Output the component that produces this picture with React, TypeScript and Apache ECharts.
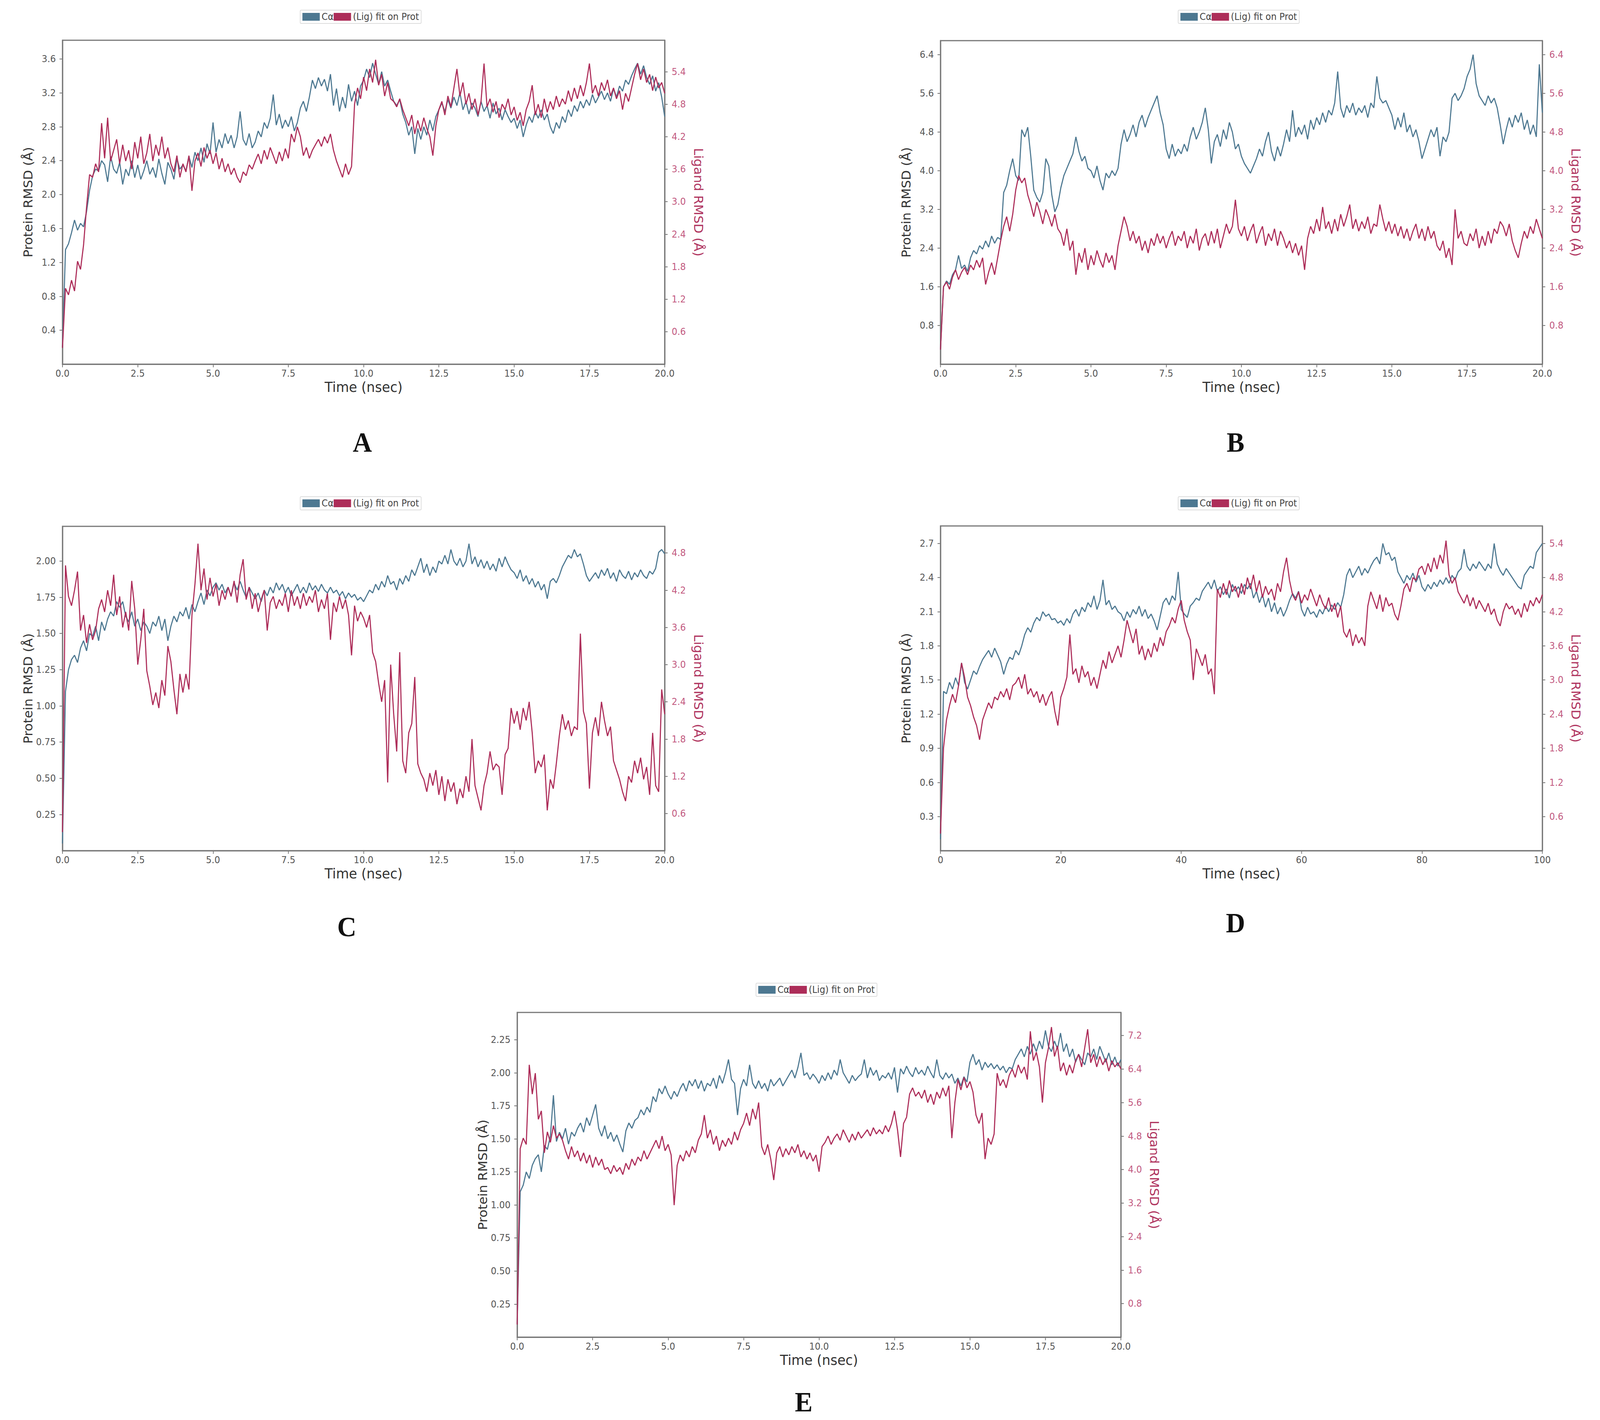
import React, { useEffect, useRef } from "react";
import * as echarts from "echarts";

// ---- sampling steps (ns between stored frames) ----
const STEP_20NS = 0.1;
const STEP_100NS = 0.5;

// ---- Panel A ----
const BLUE_A = [
  0.20,1.35,1.42,1.55,1.70,1.58,1.66,1.62,1.80,2.05,
  2.22,2.30,2.28,2.40,2.35,2.15,2.45,2.30,2.25,2.38,
  2.12,2.30,2.22,2.40,2.20,2.35,2.18,2.28,2.40,2.24,
  2.32,2.20,2.42,2.25,2.12,2.38,2.30,2.18,2.42,2.30,
  2.35,2.28,2.45,2.32,2.50,2.40,2.55,2.38,2.60,2.48,
  2.85,2.50,2.65,2.55,2.72,2.60,2.70,2.55,2.68,2.98,
  2.65,2.58,2.72,2.55,2.62,2.75,2.68,2.85,2.78,2.90,
  3.18,2.82,2.95,2.78,2.88,2.80,2.92,2.75,2.85,3.02,
  3.10,2.98,3.15,3.35,3.25,3.38,3.28,3.36,3.22,3.42,
  3.05,3.25,2.98,3.15,3.02,3.30,3.10,3.22,3.05,3.28,
  3.35,3.48,3.38,3.55,3.42,3.30,3.45,3.28,3.35,3.22,
  3.10,3.05,3.12,2.95,2.85,2.70,2.80,2.48,2.78,2.65,
  2.80,2.70,2.88,2.75,2.92,3.00,3.08,2.98,3.12,3.02,
  3.15,3.05,3.20,3.00,3.10,2.95,3.08,3.02,2.92,3.10,
  2.98,3.05,2.90,3.08,2.95,3.02,2.88,3.00,2.92,2.85,
  2.90,2.78,2.88,2.68,2.82,2.92,2.85,2.98,2.90,3.00,
  2.88,2.95,2.80,2.72,2.85,2.78,2.92,2.85,3.00,2.92,
  3.05,2.98,3.10,3.02,3.12,3.05,3.18,3.08,3.15,3.22,
  3.12,3.20,3.10,3.25,3.15,3.28,3.22,3.35,3.30,3.40,
  3.48,3.55,3.42,3.52,3.38,3.30,3.40,3.22,3.32,3.15,
  2.92,
];
const RED_A = [
  0.30,1.40,1.28,1.55,1.35,1.90,1.75,2.20,2.90,3.50,
  3.45,3.70,3.55,4.45,3.80,4.55,3.75,3.95,4.15,3.70,
  4.05,3.75,3.95,3.60,4.10,3.80,4.20,3.70,3.90,4.25,
  3.75,4.05,3.85,4.20,3.80,4.00,3.70,3.55,3.85,3.45,
  3.70,3.55,3.85,3.20,3.75,3.90,3.65,4.00,3.80,3.95,
  3.70,3.90,3.60,3.80,3.55,3.70,3.50,3.62,3.45,3.35,
  3.55,3.48,3.68,3.60,3.75,3.88,3.70,3.95,3.78,4.00,
  3.85,3.70,3.92,3.75,3.98,3.80,4.25,4.10,4.38,4.20,
  3.85,4.00,3.80,3.95,4.05,4.15,4.02,4.20,4.08,4.25,
  3.95,3.75,3.60,3.45,3.70,3.50,3.65,4.80,5.10,4.90,
  5.30,5.05,5.45,5.20,5.62,5.15,5.35,4.95,5.20,4.90,
  4.85,4.75,4.90,4.70,4.55,4.40,4.60,4.25,4.50,4.30,
  4.55,4.35,4.20,3.85,4.40,4.70,4.85,4.60,4.95,4.75,
  5.10,5.45,4.95,5.20,4.80,5.00,4.70,4.90,4.60,4.85,
  5.55,4.75,4.90,4.65,4.85,4.55,4.80,4.70,4.90,4.60,
  4.75,4.50,4.65,4.40,4.70,4.85,5.15,4.60,4.80,4.55,
  4.90,4.65,4.85,4.70,4.95,4.75,4.90,4.80,5.05,4.85,
  5.10,4.90,5.15,4.95,5.20,5.55,5.00,5.15,4.95,5.20,
  5.05,5.25,4.95,5.10,4.90,5.05,4.70,5.00,4.85,5.10,
  5.35,5.55,5.25,5.45,5.20,5.35,5.05,5.30,5.10,5.20,
  5.00,
];

// ---- Panel B ----
const BLUE_B = [
  0.30,1.60,1.72,1.65,1.85,1.95,2.25,1.98,2.05,1.92,
  2.20,2.35,2.28,2.45,2.38,2.55,2.42,2.65,2.50,2.62,
  2.58,3.55,3.70,4.00,4.25,3.90,3.80,4.85,4.70,4.90,
  4.30,3.60,3.45,3.35,3.55,4.25,4.10,3.50,3.15,3.30,
  3.65,3.90,4.05,4.20,4.35,4.70,4.40,4.20,4.30,4.05,
  4.00,3.85,4.10,3.80,3.60,3.95,3.85,4.00,3.90,4.05,
  4.55,4.85,4.60,4.75,4.95,4.70,5.00,5.15,4.90,5.10,
  5.25,5.40,5.55,5.20,4.95,4.45,4.25,4.55,4.30,4.45,
  4.35,4.55,4.40,4.70,4.90,4.65,4.80,5.00,5.30,4.85,
  4.15,4.60,4.75,4.50,4.85,4.65,5.00,4.80,4.45,4.55,
  4.30,4.15,4.05,3.95,4.10,4.25,4.45,4.30,4.60,4.80,
  4.40,4.20,4.50,4.30,4.55,4.85,4.60,5.25,4.70,4.90,
  4.75,4.95,4.65,5.05,4.85,5.10,4.95,5.20,5.00,5.25,
  5.15,5.40,6.05,5.30,5.10,5.35,5.20,5.40,5.15,5.30,
  5.20,5.35,5.10,5.40,5.30,5.95,5.50,5.40,5.45,5.30,
  5.15,4.85,5.10,4.90,5.20,4.80,4.95,4.70,4.85,4.60,
  4.25,4.45,4.65,4.85,4.70,4.90,4.30,4.70,4.60,4.80,
  5.50,5.60,5.45,5.55,5.70,5.95,6.10,6.40,5.80,5.55,
  5.45,5.35,5.55,5.40,5.50,5.30,4.95,4.55,4.85,5.10,
  4.90,5.15,5.00,5.20,4.85,5.05,4.75,4.95,4.70,6.20,
  5.20,
];
const RED_B = [
  0.30,1.60,1.70,1.55,1.80,1.95,1.75,1.90,2.00,1.85,
  2.05,1.95,2.15,2.00,2.20,1.65,1.90,2.10,1.85,2.20,
  2.55,2.85,3.05,2.75,3.10,3.60,3.90,3.75,3.85,3.50,
  3.30,3.05,3.35,3.15,2.90,3.20,3.05,2.85,3.10,2.80,
  2.70,2.45,2.80,2.35,2.55,1.85,2.30,2.10,2.40,1.95,
  2.25,2.05,2.35,2.15,2.00,2.30,2.10,2.25,1.95,2.45,
  2.75,3.05,2.85,2.55,2.75,2.50,2.65,2.35,2.55,2.30,
  2.60,2.45,2.70,2.50,2.65,2.40,2.60,2.75,2.45,2.65,
  2.55,2.75,2.40,2.65,2.50,2.80,2.35,2.60,2.70,2.45,
  2.75,2.50,2.80,2.40,2.65,2.90,2.70,2.85,3.40,2.80,
  2.65,2.85,2.55,2.75,2.90,2.50,2.70,2.85,2.45,2.70,
  2.55,2.80,2.45,2.75,2.60,2.40,2.55,2.30,2.50,2.25,
  2.45,1.95,2.60,2.85,2.70,3.00,2.75,3.25,2.80,2.95,
  2.70,3.00,2.75,3.10,2.85,3.05,3.30,2.80,3.00,2.75,
  2.95,2.80,3.05,2.70,2.90,2.85,3.30,3.00,2.75,2.95,
  2.70,2.90,2.65,2.85,2.60,2.80,2.55,2.75,2.90,2.60,
  2.80,2.55,2.85,2.60,2.75,2.45,2.35,2.55,2.20,2.40,
  2.05,3.20,2.60,2.75,2.50,2.45,2.70,2.55,2.80,2.40,
  2.65,2.45,2.75,2.50,2.80,2.70,2.95,2.85,2.65,2.90,
  2.55,2.35,2.20,2.50,2.75,2.60,2.85,2.70,3.00,2.80,
  2.60,
];

// ---- Panel C ----
const BLUE_C = [
  0.05,1.10,1.25,1.32,1.35,1.30,1.40,1.45,1.38,1.50,
  1.48,1.55,1.45,1.58,1.52,1.60,1.65,1.62,1.72,1.68,
  1.72,1.62,1.58,1.65,1.55,1.60,1.52,1.58,1.55,1.50,
  1.58,1.55,1.62,1.52,1.60,1.45,1.55,1.62,1.58,1.65,
  1.62,1.68,1.60,1.70,1.65,1.72,1.78,1.70,1.80,1.76,
  1.82,1.85,1.80,1.84,1.78,1.82,1.76,1.85,1.80,1.86,
  1.80,1.75,1.82,1.78,1.74,1.78,1.72,1.80,1.76,1.82,
  1.78,1.85,1.80,1.84,1.78,1.82,1.76,1.80,1.84,1.78,
  1.82,1.78,1.85,1.80,1.83,1.79,1.84,1.80,1.78,1.82,
  1.78,1.80,1.76,1.79,1.74,1.78,1.75,1.77,1.73,1.75,
  1.72,1.76,1.80,1.78,1.84,1.80,1.86,1.82,1.90,1.84,
  1.86,1.80,1.88,1.84,1.90,1.86,1.94,1.90,1.96,2.02,
  1.92,1.98,1.90,1.96,1.92,2.00,1.98,2.04,1.98,2.08,
  2.00,1.97,2.02,1.96,2.00,2.12,1.98,2.03,1.96,2.01,
  1.95,2.00,1.94,1.98,1.93,2.02,1.96,2.03,1.98,1.94,
  1.92,1.88,1.94,1.86,1.90,1.84,1.88,1.82,1.86,1.80,
  1.84,1.74,1.86,1.88,1.85,1.90,1.96,2.00,2.04,2.02,
  2.08,2.03,2.05,1.98,1.90,1.86,1.89,1.92,1.88,1.94,
  1.90,1.95,1.88,1.92,1.86,1.94,1.90,1.88,1.93,1.87,
  1.92,1.89,1.94,1.90,1.88,1.93,1.91,1.95,2.06,2.08,
  2.05,
];
const RED_C = [
  0.30,4.60,4.10,3.95,4.20,4.50,3.55,3.80,3.35,3.65,
  3.40,3.55,3.90,4.05,3.85,4.20,3.95,4.45,3.80,4.10,
  3.60,3.85,3.55,4.35,3.90,3.00,3.40,3.90,2.90,2.65,
  2.35,2.55,2.30,2.75,2.50,3.30,3.05,2.60,2.20,2.85,
  2.55,2.85,2.60,3.80,4.30,4.95,4.20,4.55,4.05,4.40,
  4.10,4.30,3.95,4.20,4.05,4.25,4.10,4.35,4.00,4.45,
  4.70,4.05,4.25,3.90,4.15,3.85,4.05,4.20,3.55,4.00,
  4.10,3.90,4.05,3.95,4.15,3.85,4.20,3.95,4.10,3.90,
  4.15,3.95,4.10,4.00,4.20,3.85,4.05,3.90,4.15,3.40,
  4.00,3.85,4.10,3.90,4.05,3.80,3.15,3.95,3.70,3.85,
  3.75,3.60,3.80,3.20,3.05,2.70,2.40,2.75,1.10,3.00,
  2.20,1.60,3.20,1.45,1.25,1.90,2.05,2.80,1.40,1.25,
  1.15,0.95,1.25,1.05,1.30,0.90,1.20,0.80,1.15,0.95,
  1.10,0.75,1.00,0.85,1.20,0.95,1.80,1.05,0.85,0.65,
  1.05,1.25,1.60,1.30,1.40,1.35,0.90,1.55,1.65,2.30,
  2.05,2.25,1.95,2.30,2.10,2.40,1.90,1.25,1.45,1.35,
  1.55,0.65,1.15,1.00,1.40,1.85,2.20,1.95,2.10,1.85,
  2.00,1.95,3.50,2.25,2.05,1.00,1.90,2.15,1.85,2.40,
  2.10,1.85,2.00,1.45,1.30,1.15,0.95,0.80,1.20,1.10,
  1.45,1.25,1.50,1.15,1.35,0.90,1.90,1.05,0.95,2.60,
  2.20,
];

// ---- Panel D (100 ns) ----
const BLUE_D = [
  0.10,1.40,1.38,1.48,1.42,1.52,1.45,1.65,1.48,1.42,
  1.50,1.58,1.55,1.62,1.68,1.72,1.76,1.70,1.78,1.72,
  1.66,1.55,1.64,1.70,1.68,1.76,1.72,1.80,1.90,1.96,
  1.92,2.00,2.05,2.02,2.10,2.06,2.08,2.03,2.04,2.00,
  2.02,1.98,2.04,2.00,2.08,2.12,2.06,2.14,2.10,2.18,
  2.14,2.24,2.12,2.20,2.38,2.16,2.20,2.12,2.15,2.10,
  2.08,2.02,2.10,2.05,2.12,2.08,2.15,2.06,2.12,2.04,
  2.08,2.02,1.94,2.06,2.18,2.22,2.16,2.24,2.20,2.45,
  2.12,2.08,2.05,2.15,2.18,2.22,2.20,2.28,2.32,2.36,
  2.30,2.38,2.28,2.32,2.25,2.30,2.22,2.34,2.28,2.32,
  2.26,2.34,2.30,2.35,2.22,2.28,2.18,2.25,2.14,2.22,
  2.10,2.18,2.08,2.14,2.06,2.12,2.20,2.26,2.22,2.28,
  2.12,2.06,2.14,2.08,2.10,2.05,2.12,2.08,2.15,2.10,
  2.16,2.12,2.18,2.14,2.25,2.42,2.48,2.40,2.45,2.50,
  2.42,2.48,2.44,2.50,2.55,2.58,2.52,2.70,2.60,2.62,
  2.55,2.58,2.45,2.40,2.35,2.42,2.38,2.44,2.36,2.42,
  2.32,2.28,2.34,2.30,2.36,2.32,2.38,2.34,2.40,2.35,
  2.42,2.38,2.45,2.48,2.65,2.50,2.46,2.52,2.48,2.54,
  2.50,2.46,2.52,2.48,2.70,2.52,2.46,2.42,2.48,2.44,
  2.40,2.36,2.32,2.30,2.42,2.46,2.50,2.48,2.62,2.66,
  2.70,
];
const RED_D = [
  0.30,1.80,2.30,2.55,2.75,2.60,2.90,3.30,3.05,2.70,
  2.55,2.35,2.20,1.95,2.30,2.45,2.60,2.50,2.70,2.65,
  2.80,2.70,2.85,2.65,2.90,2.95,3.05,2.85,3.10,2.75,
  2.85,2.70,2.80,2.60,2.75,2.55,2.70,2.80,2.45,2.20,
  2.70,2.85,3.05,3.80,3.10,3.20,2.95,3.25,3.05,3.15,
  2.90,3.05,2.85,3.10,3.35,3.20,3.50,3.30,3.45,3.60,
  3.40,3.70,4.05,3.85,3.65,3.90,3.45,3.60,3.35,3.55,
  3.40,3.65,3.50,3.75,3.60,3.85,3.95,4.10,4.00,4.25,
  4.40,4.05,3.85,3.70,3.00,3.55,3.40,3.25,3.45,3.10,
  3.20,2.75,4.60,4.45,4.70,4.50,4.75,4.55,4.65,4.45,
  4.70,4.50,4.80,4.60,4.85,4.55,4.75,4.45,4.65,4.50,
  4.60,4.40,4.70,4.55,4.90,5.15,4.75,4.50,4.40,4.55,
  4.35,4.50,4.40,4.60,4.45,4.30,4.50,4.35,4.25,4.45,
  4.20,4.35,4.10,4.30,3.85,3.75,3.90,3.60,3.80,3.65,
  3.75,3.60,4.30,4.55,4.40,4.25,4.50,4.20,4.45,4.30,
  4.35,4.15,4.05,4.30,4.60,4.70,4.55,4.80,4.75,4.95,
  5.00,4.85,5.05,4.90,5.15,4.95,5.20,5.05,5.45,4.85,
  4.70,4.80,4.55,4.45,4.35,4.50,4.30,4.45,4.25,4.40,
  4.30,4.20,4.35,4.15,4.25,4.05,3.95,4.20,4.35,4.25,
  4.30,4.15,4.25,4.10,4.35,4.20,4.40,4.30,4.45,4.35,
  4.50,
];

// ---- Panel E ----
const BLUE_E = [
  0.10,1.10,1.15,1.25,1.20,1.30,1.35,1.38,1.25,1.45,
  1.42,1.52,1.83,1.48,1.55,1.50,1.58,1.46,1.55,1.52,
  1.58,1.62,1.55,1.66,1.60,1.68,1.76,1.58,1.52,1.60,
  1.50,1.55,1.48,1.53,1.46,1.40,1.56,1.62,1.58,1.64,
  1.66,1.72,1.68,1.74,1.70,1.82,1.78,1.88,1.84,1.90,
  1.84,1.80,1.86,1.82,1.88,1.92,1.86,1.94,1.90,1.95,
  1.88,1.94,1.86,1.92,1.90,1.96,1.88,1.98,1.92,2.00,
  2.10,1.95,1.92,1.68,1.88,1.95,1.90,2.06,1.92,1.88,
  1.94,1.88,1.92,1.86,1.95,1.90,1.93,1.96,1.90,1.94,
  1.98,2.02,1.96,2.04,2.15,1.98,2.00,1.95,1.99,1.96,
  1.92,1.98,1.94,2.00,1.95,2.02,1.98,2.10,2.00,1.96,
  1.92,1.98,1.94,1.97,1.99,2.10,1.96,2.04,1.98,2.02,
  1.94,1.98,1.96,2.00,1.95,2.04,1.85,2.03,1.99,2.05,
  2.00,1.97,2.04,1.99,2.02,1.98,2.05,2.00,1.96,2.10,
  1.98,1.95,2.00,1.96,1.99,1.92,1.96,1.90,1.97,1.93,
  2.08,2.14,2.06,2.10,2.02,2.08,2.04,2.07,2.03,2.06,
  2.02,2.05,2.00,2.04,2.03,2.10,2.14,2.18,2.12,2.20,
  2.14,2.22,2.16,2.24,2.18,2.32,2.20,2.16,2.24,2.18,
  2.30,2.16,2.22,2.12,2.18,2.08,2.14,2.10,2.06,2.15,
  2.12,2.18,2.10,2.20,2.14,2.08,2.15,2.06,2.12,2.05,
  2.10,
];
const RED_E = [
  0.30,4.50,4.75,4.60,6.50,5.80,6.30,5.20,5.40,4.40,
  4.90,4.65,5.05,4.75,4.85,4.70,4.45,4.25,4.55,4.30,
  4.45,4.20,4.40,4.15,4.35,4.05,4.30,4.10,4.25,4.00,
  4.05,3.90,4.10,3.95,4.05,3.88,4.15,4.00,4.25,4.10,
  4.30,4.20,4.45,4.25,4.40,4.55,4.70,4.50,4.80,4.45,
  4.60,4.35,3.15,4.10,4.35,4.20,4.45,4.30,4.55,4.40,
  4.70,4.85,5.30,4.75,4.95,4.60,4.80,4.45,4.70,4.55,
  4.75,4.60,4.90,4.70,4.95,5.10,5.35,5.05,5.45,5.20,
  5.60,4.55,4.35,4.60,4.25,3.75,4.40,4.55,4.30,4.50,
  4.35,4.55,4.40,4.60,4.30,4.45,4.25,4.40,4.20,4.35,
  3.95,4.55,4.65,4.80,4.60,4.75,4.85,4.70,4.95,4.80,
  4.65,4.85,4.70,4.90,4.75,4.85,4.95,4.80,5.00,4.85,
  4.95,4.85,5.05,4.90,5.10,5.40,4.95,4.30,5.10,5.25,
  5.80,5.95,5.75,5.85,5.70,5.90,5.60,5.80,5.55,5.85,
  5.70,5.95,5.75,6.00,4.75,5.60,6.15,5.90,6.20,5.95,
  6.10,5.85,5.30,5.10,5.35,4.25,4.75,4.60,4.85,6.30,
  6.00,6.15,5.95,6.25,6.40,6.20,6.50,6.30,6.45,6.15,
  7.30,6.60,6.80,6.45,5.60,6.55,6.90,7.40,6.70,6.95,
  6.35,6.55,6.25,6.50,6.30,6.60,6.75,6.45,6.90,7.35,
  6.55,6.75,6.45,6.70,6.50,6.65,6.35,6.60,6.45,6.55,
  6.40,
];

// ---- labels ----
const LETTERS = ["A", "B", "C", "D", "E"];
const BLUE_NAME = "Cα";
const RED_NAME = "(Lig) fit on Prot";
const X_NAME = "Time (nsec)";
const LEFT_NAME = "Protein RMSD (Å)";
const RIGHT_NAME = "Ligand RMSD (Å)";

// ---- axis scales per panel [xMax, xInterval, xDigits, leftMax, leftInt, leftDigits, rightMax, rightInt, rightDigits]
const SCALES = [
  [20, 2.5, 1, 3.82, 0.4, 1, 5.98, 0.6, 1],
  [20, 2.5, 1, 6.69, 0.8, 1, 6.69, 0.8, 1],
  [20, 2.5, 1, 2.24, 0.25, 2, 5.23, 0.6, 1],
  [100, 20, 0, 2.854, 0.3, 1, 5.708, 0.6, 1],
  [20, 2.5, 1, 2.456, 0.25, 2, 7.75, 0.8, 1],
];
const SERIES_DATA = [
  [BLUE_A, RED_A, STEP_20NS],
  [BLUE_B, RED_B, STEP_20NS],
  [BLUE_C, RED_C, STEP_20NS],
  [BLUE_D, RED_D, STEP_100NS],
  [BLUE_E, RED_E, STEP_20NS],
] as [number[], number[], number][];

// ---- layout (pixels in the 4328 x 3634 design) ----
const DESIGN_W = 4328;
const DESIGN_H = 3634;
const GRIDS = [
  [169, 103, 1629, 829],
  [2544, 104, 1628, 828],
  [169, 1347, 1629, 830],
  [2544, 1346, 1628, 831],
  [1399, 2591, 1633, 831],
];
const LEGEND_POS = [
  [812, 26],
  [3187, 26],
  [812, 1271],
  [3187, 1271],
  [2045, 2516],
];
const LETTER_POS = [
  [980, 1132],
  [3342, 1132],
  [938, 2372],
  [3342, 2362],
  [2174, 3588],
];

const BLUE = "#4d7891";
const RED = "#ad2d59";
const FRAME = "#777777";
const FONT = '"DejaVu Sans", "Liberation Sans", sans-serif';

function pairs(vals: number[], step: number) {
  return vals.map((v, i) => [Math.round(i * step * 100) / 100, v]);
}

function buildOption() {
  const grid = GRIDS.map((g) => ({
    left: g[0],
    top: g[1],
    width: g[2],
    height: g[3],
    show: true,
    borderColor: FRAME,
    borderWidth: 3,
    backgroundColor: "transparent",
    containLabel: false,
    outerBoundsMode: "none",
  }));

  const xAxis = SCALES.map((s, i) => ({
    type: "value",
    gridIndex: i,
    min: 0,
    max: s[0],
    interval: s[1],
    name: X_NAME,
    nameLocation: "middle",
    nameGap: 40,
    nameTextStyle: { fontSize: 36, color: "#333", fontFamily: FONT },
    axisLine: { show: true, onZero: false, lineStyle: { color: FRAME, width: 3 } },
    axisTick: { show: true, length: 8, lineStyle: { color: FRAME, width: 2 } },
    axisLabel: {
      fontSize: 24,
      color: "#555",
      margin: 12,
      fontFamily: FONT,
      formatter: (v: number) => v.toFixed(s[2]),
    },
    splitLine: { show: false },
  }));

  const yAxis: any[] = [];
  SCALES.forEach((s, i) => {
    yAxis.push({
      type: "value",
      gridIndex: i,
      position: "left",
      min: 0,
      max: s[3],
      interval: s[4],
      name: LEFT_NAME,
      nameLocation: "middle",
      nameGap: 76,
      nameTextStyle: { fontSize: 33, color: "#333", fontFamily: FONT },
      axisLine: { show: true, onZero: false, lineStyle: { color: FRAME, width: 3 } },
      axisTick: { show: true, length: 8, lineStyle: { color: FRAME, width: 2 } },
      axisLabel: {
        fontSize: 24,
        color: "#555",
        margin: 18,
        fontFamily: FONT,
        showMinLabel: false,
        showMaxLabel: false,
        formatter: (v: number) => v.toFixed(s[5]),
      },
      splitLine: { show: false },
    });
    yAxis.push({
      type: "value",
      gridIndex: i,
      position: "right",
      min: 0,
      max: s[6],
      interval: s[7],
      name: RIGHT_NAME,
      nameLocation: "middle",
      nameRotate: -90,
      nameGap: 74,
      nameTextStyle: { fontSize: 33, color: "#b0355f", fontFamily: FONT },
      axisLine: { show: true, onZero: false, lineStyle: { color: FRAME, width: 3 } },
      axisTick: { show: true, length: 8, lineStyle: { color: FRAME, width: 2 } },
      axisLabel: {
        fontSize: 24,
        color: "#c2597f",
        margin: 19,
        fontFamily: FONT,
        showMinLabel: false,
        showMaxLabel: false,
        formatter: (v: number) => v.toFixed(s[8]),
      },
      splitLine: { show: false },
    });
  });

  const series: any[] = [];
  SERIES_DATA.forEach(([blue, red, step], i) => {
    series.push({
      type: "line",
      name: BLUE_NAME,
      xAxisIndex: i,
      yAxisIndex: 2 * i,
      data: pairs(blue, step),
      showSymbol: false,
      symbol: "none",
      silent: true,
      z: 2,
      lineStyle: { color: BLUE, width: 3 },
      itemStyle: { color: BLUE },
    });
    series.push({
      type: "line",
      name: RED_NAME,
      xAxisIndex: i,
      yAxisIndex: 2 * i + 1,
      data: pairs(red, step),
      showSymbol: false,
      symbol: "none",
      silent: true,
      z: 3,
      lineStyle: { color: RED, width: 3 },
      itemStyle: { color: RED },
    });
  });

  const legend = LEGEND_POS.map((p) => ({
    left: p[0],
    top: p[1],
    orient: "horizontal",
    data: [BLUE_NAME, RED_NAME],
    icon: "rect",
    itemWidth: 47,
    itemHeight: 20,
    itemGap: 0,
    padding: [5, 6],
    borderColor: "#dddddd",
    borderWidth: 2,
    borderRadius: 3,
    selectedMode: false,
    textStyle: { fontSize: 24, color: "#444", fontFamily: FONT },
  }));

  const graphic = LETTERS.map((l, i) => ({
    type: "text",
    x: LETTER_POS[i][0],
    y: LETTER_POS[i][1],
    silent: true,
    style: {
      text: l,
      font: 'bold 72px "Liberation Serif", "DejaVu Serif", serif',
      fill: "#111",
      align: "center",
      verticalAlign: "middle",
      textAlign: "center",
      textVerticalAlign: "middle",
    },
  }));

  return {
    animation: false,
    backgroundColor: "#ffffff",
    grid,
    xAxis,
    yAxis,
    series,
    legend,
    graphic,
  };
}

export default function App() {
  const ref = useRef<HTMLDivElement>(null);
  useEffect(() => {
    document.body.style.margin = "0";
    document.body.style.overflow = "hidden";
    document.documentElement.style.overflow = "hidden";
    const el = ref.current as HTMLDivElement;
    const vw = document.documentElement.clientWidth || window.innerWidth || DESIGN_W;
    const vh = window.innerHeight || document.documentElement.clientHeight || DESIGN_H;
    const sx = vw / DESIGN_W;
    const sy = vh / DESIGN_H;
    el.style.transformOrigin = "0 0";
    el.style.transform = `scale(${sx}, ${sy})`;
    const chart = echarts.init(el, null, { renderer: "svg" });
    chart.setOption(buildOption() as any);
    return () => chart.dispose();
  }, []);
  return (
    <div style={{ width: "100vw", height: "100vh", overflow: "hidden", background: "#fff" }}>
      <div ref={ref} style={{ width: DESIGN_W, height: DESIGN_H, background: "#fff" }} />
    </div>
  );
}
